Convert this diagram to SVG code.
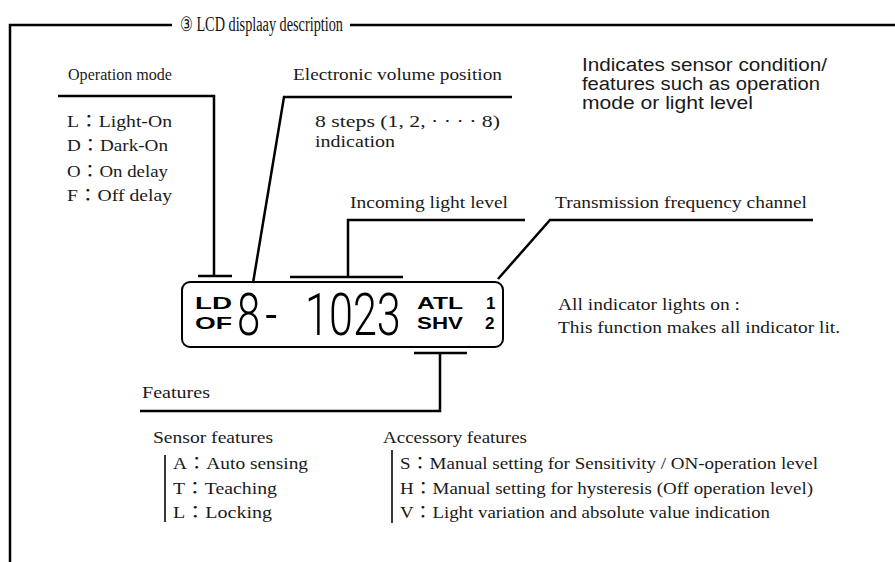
<svg xmlns="http://www.w3.org/2000/svg" width="895" height="562" viewBox="0 0 895 562">
<style>
.s{font-family:"Liberation Serif","Noto Sans CJK JP",serif;font-size:17px;fill:#1a1a1a}
.t{font-family:"Liberation Serif","DejaVu Serif",serif;font-size:20px;fill:#111}
.n{font-family:"Liberation Sans","Noto Sans",sans-serif;font-size:18px;fill:#1a1a1a}
.b{font-family:"Liberation Sans","DejaVu Sans",sans-serif;font-size:17px;font-weight:bold;fill:#000}
.d{font-family:"Roboto","DejaVu Sans",sans-serif;font-size:60px;font-weight:300;fill:#000}
.ln{fill:none;stroke:#000;stroke-width:2.5}
.bar{fill:none;stroke:#222;stroke-width:1.8}
</style>
<rect width="895" height="562" fill="#fff"/>
<g id="frame">
<path class="ln" d="M10,562 V25 H172 M350,25 H895"/>
<text class="t" x="180" y="31" textLength="163" lengthAdjust="spacingAndGlyphs">③ LCD displaay description</text>
</g>
<g id="connectors">
<path class="ln" d="M58,96 H214 V276 M198,276 H232"/>
<path class="ln" d="M512,97 H284 L253,283"/>
<path class="ln" d="M525,220 H348 V277 M290,277 H403"/>
<path class="ln" d="M813,220 H550 L498,279"/>
<path class="ln" d="M414,353 H467 M440,353 V411 H140"/>
</g>
<g id="operation-mode">
<text class="s" x="68" y="80" textLength="104" lengthAdjust="spacingAndGlyphs">Operation mode</text>
<text class="s" x="67" y="127" textLength="105" lengthAdjust="spacingAndGlyphs">L：Light-On</text>
<text class="s" x="67" y="151" textLength="101" lengthAdjust="spacingAndGlyphs">D：Dark-On</text>
<text class="s" x="67" y="177" textLength="101" lengthAdjust="spacingAndGlyphs">O：On delay</text>
<text class="s" x="67" y="201" textLength="105" lengthAdjust="spacingAndGlyphs">F：Off delay</text>
</g>
<g id="volume-position">
<text class="s" x="293" y="80" textLength="209" lengthAdjust="spacingAndGlyphs">Electronic volume position</text>
<text class="s" x="315" y="127" textLength="185" lengthAdjust="spacingAndGlyphs">8 steps (1, 2,  · · · · 8)</text>
<text class="s" x="315" y="147" textLength="80" lengthAdjust="spacingAndGlyphs">indication</text>
</g>
<g id="note-indicates">
<text class="n" x="582" y="71" textLength="245" lengthAdjust="spacingAndGlyphs">Indicates sensor condition/</text>
<text class="n" x="582" y="90" textLength="238" lengthAdjust="spacingAndGlyphs">features such as operation</text>
<text class="n" x="582" y="109" textLength="171" lengthAdjust="spacingAndGlyphs">mode or light level</text>
</g>
<g id="incoming-light-level">
<text class="s" x="350" y="208" textLength="158" lengthAdjust="spacingAndGlyphs">Incoming light level</text>
</g>
<g id="transmission-channel">
<text class="s" x="555" y="208" textLength="252" lengthAdjust="spacingAndGlyphs">Transmission frequency channel</text>
</g>
<g id="lcd">
<rect x="182" y="282" width="321" height="65" rx="8" fill="none" stroke="#000" stroke-width="2"/>
<text class="b" x="195" y="309" textLength="37" lengthAdjust="spacingAndGlyphs">LD</text>
<text class="b" x="195" y="329" textLength="37" lengthAdjust="spacingAndGlyphs">OF</text>
<text class="d" transform="translate(237,335) scale(0.7,1)" letter-spacing="7">8-</text>
<text class="d" transform="translate(305,335) scale(0.72,1)">1023</text>
<text class="b" x="417" y="309" textLength="46" lengthAdjust="spacingAndGlyphs">ATL</text>
<text class="b" x="417" y="329" textLength="46" lengthAdjust="spacingAndGlyphs">SHV</text>
<text class="b" x="486" y="309">1</text>
<text class="b" x="485" y="329">2</text>
</g>
<g id="note-all-lights">
<text class="s" x="558" y="310" textLength="182" lengthAdjust="spacingAndGlyphs">All indicator lights on :</text>
<text class="s" x="558" y="333" textLength="282" lengthAdjust="spacingAndGlyphs">This function makes all indicator lit.</text>
</g>
<g id="features">
<text class="s" x="142" y="398" textLength="68" lengthAdjust="spacingAndGlyphs">Features</text>
</g>
<g id="sensor-features">
<text class="s" x="153" y="443" textLength="120" lengthAdjust="spacingAndGlyphs">Sensor features</text>
<path class="bar" d="M165,455 V522"/>
<text class="s" x="173" y="469" textLength="135" lengthAdjust="spacingAndGlyphs">A：Auto sensing</text>
<text class="s" x="173" y="494" textLength="104" lengthAdjust="spacingAndGlyphs">T：Teaching</text>
<text class="s" x="173" y="518" textLength="99" lengthAdjust="spacingAndGlyphs">L：Locking</text>
</g>
<g id="accessory-features">
<text class="s" x="383" y="443" textLength="144" lengthAdjust="spacingAndGlyphs">Accessory features</text>
<path class="bar" d="M392,450 V523"/>
<text class="s" x="400" y="469" textLength="418" lengthAdjust="spacingAndGlyphs">S：Manual setting for Sensitivity / ON-operation level</text>
<text class="s" x="400" y="494" textLength="413" lengthAdjust="spacingAndGlyphs">H：Manual setting for hysteresis (Off operation level)</text>
<text class="s" x="400" y="518" textLength="370" lengthAdjust="spacingAndGlyphs">V：Light variation and absolute value indication</text>
</g>
</svg>
